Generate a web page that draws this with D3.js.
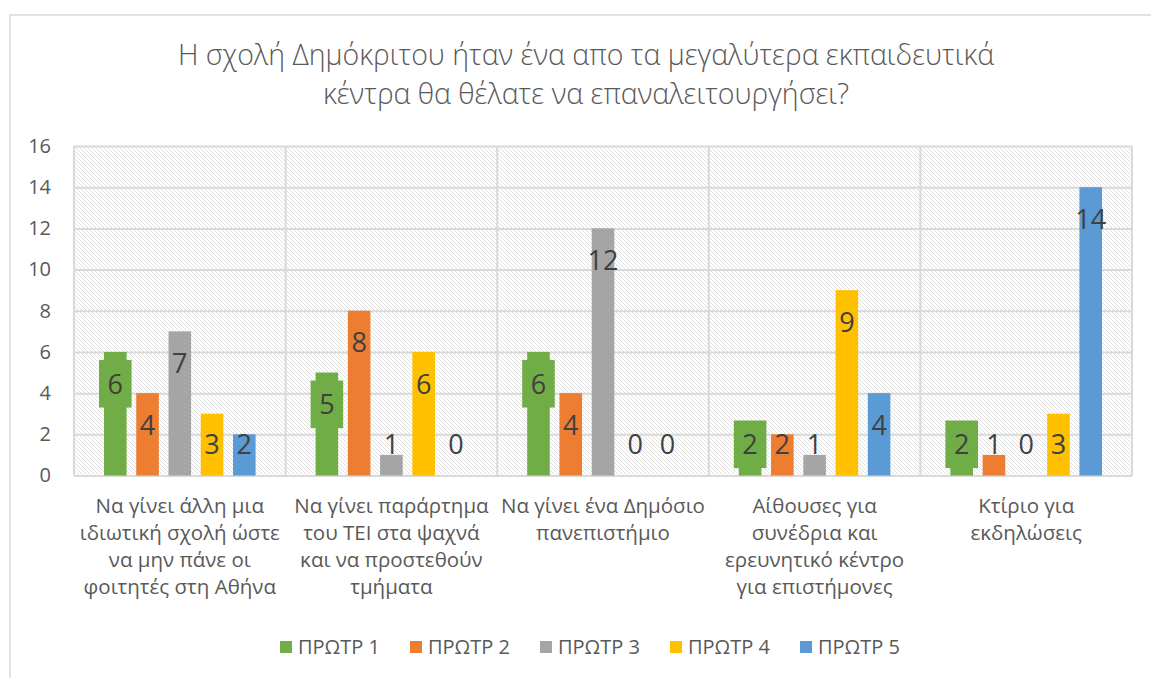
<!DOCTYPE html>
<html>
<head>
<meta charset="utf-8">
<script src="https://cdn.jsdelivr.net/npm/d3@7"></script>
<style>
  html, body { margin: 0; padding: 0; background: #fff; }
  svg { display: block; font-family: 'Open Sans', 'Noto Sans', sans-serif; }
</style>
</head>
<body>
<div id="chart"></div>
<script>
// chart data
const titleLines = ['Η σχολή Δημόκριτου ήταν ένα απο τα μεγαλύτερα εκπαιδευτικά', 'κέντρα θα θέλατε να επαναλειτουργήσει?'];
const categoryLines = [
  ['Να γίνει άλλη μια', 'ιδιωτική σχολή ώστε', 'να μην πάνε οι', 'φοιτητές στη Αθήνα'],
  ['Να γίνει παράρτημα', 'του ΤΕΙ στα ψαχνά', 'και να προστεθούν', 'τμήματα'],
  ['Να γίνει ένα Δημόσιο', 'πανεπιστήμιο'],
  ['Αίθουσες για', 'συνέδρια και', 'ερευνητικό κέντρο', 'για επιστήμονες'],
  ['Κτίριο για', 'εκδηλώσεις']
];
const categories = categoryLines.map(l => l.join(' '));
const seriesNames = ['ΠΡΩΤΡ 1', 'ΠΡΩΤΡ 2', 'ΠΡΩΤΡ 3', 'ΠΡΩΤΡ 4', 'ΠΡΩΤΡ 5'];
const protr1 = [6, 5, 6, 2, 2];
const protr2 = [4, 8, 4, 2, 1];
const protr3 = [7, 1, 12, 1, 0];
const protr4 = [3, 6, 0, 9, 3];
const protr5 = [2, 0, 0, 4, 14];
const yTicks = [0, 2, 4, 6, 8, 10, 12, 14, 16];

const seriesValues = [protr1, protr2, protr3, protr4, protr5];
const colors = ['#70AD47', '#ED7D31', '#A5A5A5', '#FFC000', '#5B9BD5'];

const W = 1151, H = 678;
const plot = {left: 74, right: 1132, top: 146, bottom: 475.5};

const svg = d3.select('#chart').append('svg').attr('width', W).attr('height', H);

// hatch fill for the plot area
const defs = svg.append('defs');
const pat = defs.append('pattern')
  .attr('id', 'hatch')
  .attr('patternUnits', 'userSpaceOnUse')
  .attr('width', 4).attr('height', 4);
pat.append('rect').attr('width', 4).attr('height', 4).attr('fill', '#fff');
pat.append('path')
  .attr('d', 'M-1,-1 L5,5 M-1,3 L1,5 M3,-1 L5,1')
  .attr('stroke', '#dcdcdc')
  .attr('stroke-width', 0.9);

// chart border (only top/left visible in the frame)
svg.append('rect')
  .attr('x', 10).attr('y', 15)
  .attr('width', W + 20).attr('height', H + 20)
  .attr('fill', 'none')
  .attr('stroke', '#d9d9d9')
  .attr('stroke-width', 1.5);

// title
svg.append('text')
  .attr('x', 586)
  .attr('text-anchor', 'middle')
  .style('font-size', '28.5px')
  .style('font-weight', 300)
  .style('fill', '#595959')
  .selectAll('tspan')
  .data(titleLines)
  .join('tspan')
  .attr('x', 586)
  .attr('y', (d, i) => 65 + i * 39)
  .text(d => d);

// scales
const x0 = d3.scaleBand().domain(categories).range([plot.left, plot.right]).padding(0);
const x1 = d3.scaleBand().domain(d3.range(seriesNames.length))
  .range([0, x0.bandwidth()]).paddingInner(0.3).paddingOuter(0.93);
const y = d3.scaleLinear().domain([0, 16]).range([plot.bottom, plot.top]);

// plot background
svg.append('rect')
  .attr('x', plot.left).attr('y', plot.top)
  .attr('width', plot.right - plot.left).attr('height', plot.bottom - plot.top)
  .attr('fill', 'url(#hatch)');

// horizontal gridlines
svg.append('g')
  .attr('transform', 'translate(' + plot.left + ',0)')
  .call(d3.axisLeft(y).tickValues(yTicks).tickSize(-(plot.right - plot.left)).tickFormat(''))
  .call(g => g.select('.domain').remove())
  .call(g => g.selectAll('line').attr('stroke', '#d9d9d9').attr('stroke-width', 2));

// vertical category separators
const sepX = categories.map(c => x0(c)).concat([plot.right]);
svg.append('g')
  .selectAll('line')
  .data(sepX)
  .join('line')
  .attr('x1', d => d).attr('x2', d => d)
  .attr('y1', plot.top).attr('y2', plot.bottom)
  .attr('stroke', '#d9d9d9')
  .attr('stroke-width', 2);

// y axis labels
svg.append('g')
  .attr('transform', 'translate(' + plot.left + ',0)')
  .call(d3.axisLeft(y).tickValues(yTicks).tickSize(0).tickPadding(23))
  .call(g => g.select('.domain').remove())
  .call(g => g.selectAll('text')
    .style('font-size', '20px')
    .style('font-family', "'Open Sans', sans-serif")
    .attr('fill', '#595959'));

// bars
const groups = svg.append('g')
  .selectAll('g')
  .data(categories)
  .join('g')
  .attr('transform', d => 'translate(' + x0(d) + ',0)');

const cells = groups.selectAll('g')
  .data((c, ci) => seriesValues.map((vals, si) => ({si: si, v: vals[ci]})))
  .join('g');

cells.append('rect')
  .attr('x', d => x1(d.si))
  .attr('width', x1.bandwidth())
  .attr('y', d => y(d.v))
  .attr('height', d => plot.bottom - y(d.v))
  .attr('fill', d => colors[d.si]);

// data labels: inside end, kept above the axis
const labelY = d => Math.min(y(d.v) + 32, plot.bottom - 31);

cells.filter(d => d.si === 0)
  .append('rect')
  .attr('x', d => x1(d.si) - 5)
  .attr('width', x1.bandwidth() + 10)
  .attr('y', d => labelY(d) - 24)
  .attr('height', 47.6)
  .attr('fill', d => colors[d.si]);

cells.append('text')
  .attr('x', d => x1(d.si) + x1.bandwidth() / 2)
  .attr('y', d => labelY(d))
  .attr('dy', '0.36em')
  .attr('text-anchor', 'middle')
  .style('font-size', '27px')
  .style('fill', '#404040')
  .text(d => d.v);

// category labels (wrapped, centred under each category)
svg.append('g')
  .selectAll('text')
  .data(categoryLines)
  .join('text')
  .attr('text-anchor', 'middle')
  .style('font-size', '20.5px')
  .style('fill', '#595959')
  .each(function (lines, i) {
    const cx = x0(categories[i]) + x0.bandwidth() / 2;
    d3.select(this).selectAll('tspan')
      .data(lines)
      .join('tspan')
      .attr('x', cx)
      .attr('y', (d, j) => 513 + j * 27)
      .text(d => d);
  });

// legend
const legend = svg.append('g')
  .selectAll('g')
  .data(seriesNames)
  .join('g')
  .attr('transform', (d, i) => 'translate(' + (280 + i * 130) + ',641)');

legend.append('rect')
  .attr('width', 12).attr('height', 12)
  .attr('fill', (d, i) => colors[i]);

legend.append('text')
  .attr('x', 18)
  .attr('y', 13)
  .style('font-size', '20px')
  .style('fill', '#595959')
  .text(d => d);
</script>
</body>
</html>
